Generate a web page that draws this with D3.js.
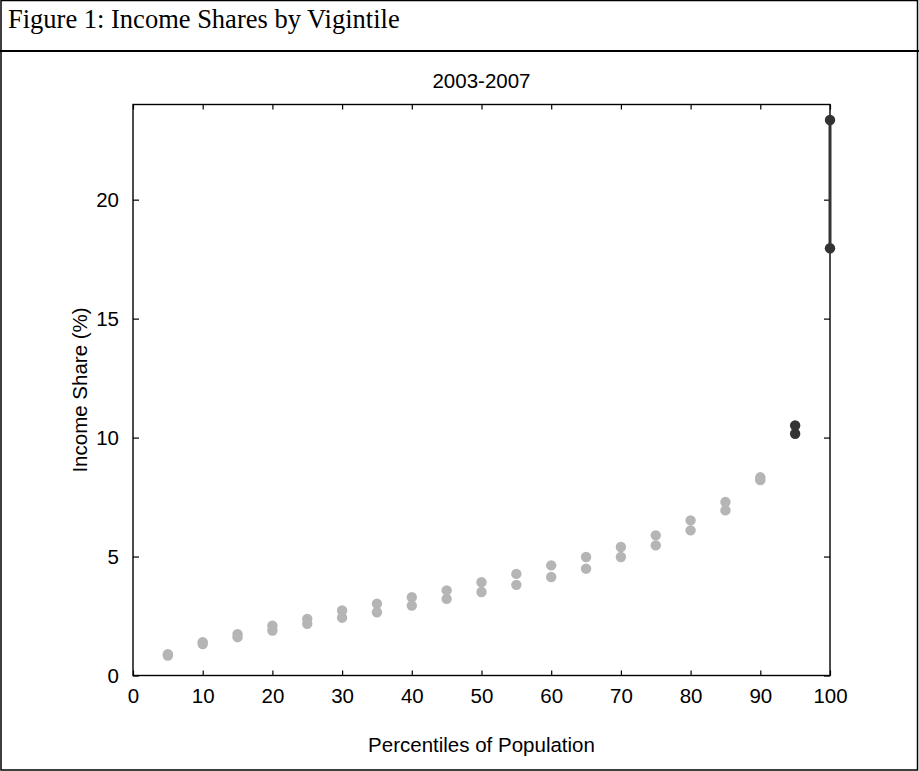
<!DOCTYPE html>
<html>
<head>
<meta charset="utf-8">
<script src="https://cdn.jsdelivr.net/npm/d3@7"></script>
<style>
  body { margin: 0; background: #fff; }
  svg { display: block; }
</style>
</head>
<body>
<div id="chart"></div>
<script>
const vigintiles = [5, 10, 15, 20, 25, 30, 35, 40, 45, 50, 55, 60, 65, 70, 75, 80, 85, 90, 95, 100];
const shareHigh = [0.90, 1.40, 1.74, 2.09, 2.38, 2.73, 3.02, 3.29, 3.58, 3.92, 4.27, 4.63, 4.98, 5.40, 5.89, 6.52, 7.29, 8.33, 10.51, 23.35];
const shareLow = [0.84, 1.32, 1.61, 1.89, 2.17, 2.43, 2.66, 2.94, 3.22, 3.51, 3.81, 4.14, 4.49, 4.98, 5.47, 6.10, 6.94, 8.21, 10.16, 17.96];
const topVigintiles = [95, 100]; // drawn dark
const xTicks = [0, 10, 20, 30, 40, 50, 60, 70, 80, 90, 100];
const yTicks = [0, 5, 10, 15, 20];

const W = 919, H = 771;
const plot = { left: 133, right: 830, top: 104.5, bottom: 675.5 };

const svg = d3.select('#chart').append('svg')
  .attr('width', W)
  .attr('height', H);

// figure frame
svg.append('rect')
  .attr('x', 1).attr('y', 0.5)
  .attr('width', W - 2.5).attr('height', H - 1.5)
  .attr('fill', 'none').attr('stroke', '#000').attr('stroke-width', 1.5);
svg.append('line')
  .attr('x1', 0).attr('x2', W).attr('y1', 51).attr('y2', 51)
  .attr('stroke', '#000').attr('stroke-width', 2.2);

svg.append('text')
  .attr('x', 8).attr('y', 28)
  .attr('font-family', 'Liberation Serif, serif')
  .attr('font-size', 26.5)
  .text('Figure 1: Income Shares by Vigintile');

const x = d3.scaleLinear().domain([0, 100]).range([plot.left, plot.right]);
const y = d3.scaleLinear().domain([0, 24]).range([plot.bottom, plot.top]);

const font = 'Liberation Sans, Arial, sans-serif';
const fs = 20.5;

// axes, ticks pointing inward on all four sides
const axisStyle = (g) => {
  g.select('.domain').remove();
  g.selectAll('.tick line').attr('stroke', '#000').attr('stroke-width', 1.2);
  g.selectAll('.tick text').attr('font-family', font).attr('font-size', fs).attr('fill', '#000');
};

svg.append('g')
  .attr('transform', `translate(0,${plot.bottom})`)
  .call(d3.axisBottom(x).tickValues(xTicks).tickSizeInner(-5).tickSizeOuter(0).tickPadding(13))
  .call(axisStyle);
svg.append('g')
  .attr('transform', `translate(0,${plot.top})`)
  .call(d3.axisTop(x).tickValues(xTicks).tickSizeInner(-5).tickSizeOuter(0).tickFormat(''))
  .call(axisStyle);
svg.append('g')
  .attr('transform', `translate(${plot.left},0)`)
  .call(d3.axisLeft(y).tickValues(yTicks).tickSizeInner(-6).tickSizeOuter(0).tickPadding(14))
  .call(axisStyle);
svg.append('g')
  .attr('transform', `translate(${plot.right},0)`)
  .call(d3.axisRight(y).tickValues(yTicks).tickSizeInner(-6).tickSizeOuter(0).tickFormat(''))
  .call(axisStyle);

svg.append('rect')
  .attr('x', plot.left).attr('y', plot.top)
  .attr('width', plot.right - plot.left).attr('height', plot.bottom - plot.top)
  .attr('fill', 'none').attr('stroke', '#000').attr('stroke-width', 1.4);

svg.append('text')
  .attr('x', (plot.left + plot.right) / 2).attr('y', 88)
  .attr('text-anchor', 'middle')
  .attr('font-family', font).attr('font-size', fs)
  .text('2003-2007');

svg.append('text')
  .attr('x', (plot.left + plot.right) / 2).attr('y', 752)
  .attr('text-anchor', 'middle')
  .attr('font-family', font).attr('font-size', fs)
  .text('Percentiles of Population');

svg.append('text')
  .attr('transform', `translate(87,${(plot.top + plot.bottom) / 2}) rotate(-90)`)
  .attr('text-anchor', 'middle')
  .attr('font-family', font).attr('font-size', fs)
  .text('Income Share (%)');

const points = vigintiles.flatMap((v, i) => [
  { v, s: shareHigh[i] },
  { v, s: shareLow[i] },
]);

// top vigintile range line
const last = vigintiles.length - 1;
svg.append('line')
  .attr('x1', x(vigintiles[last])).attr('x2', x(vigintiles[last]))
  .attr('y1', y(shareHigh[last])).attr('y2', y(shareLow[last]))
  .attr('stroke', '#333').attr('stroke-width', 3);

svg.selectAll('.pt')
  .data(points)
  .enter()
  .append('circle')
  .attr('class', 'pt')
  .attr('cx', (d) => x(d.v))
  .attr('cy', (d) => y(d.s))
  .attr('r', 5.2)
  .attr('fill', (d) => (topVigintiles.includes(d.v) ? '#333333' : '#b5b5b5'));
</script>
</body>
</html>
